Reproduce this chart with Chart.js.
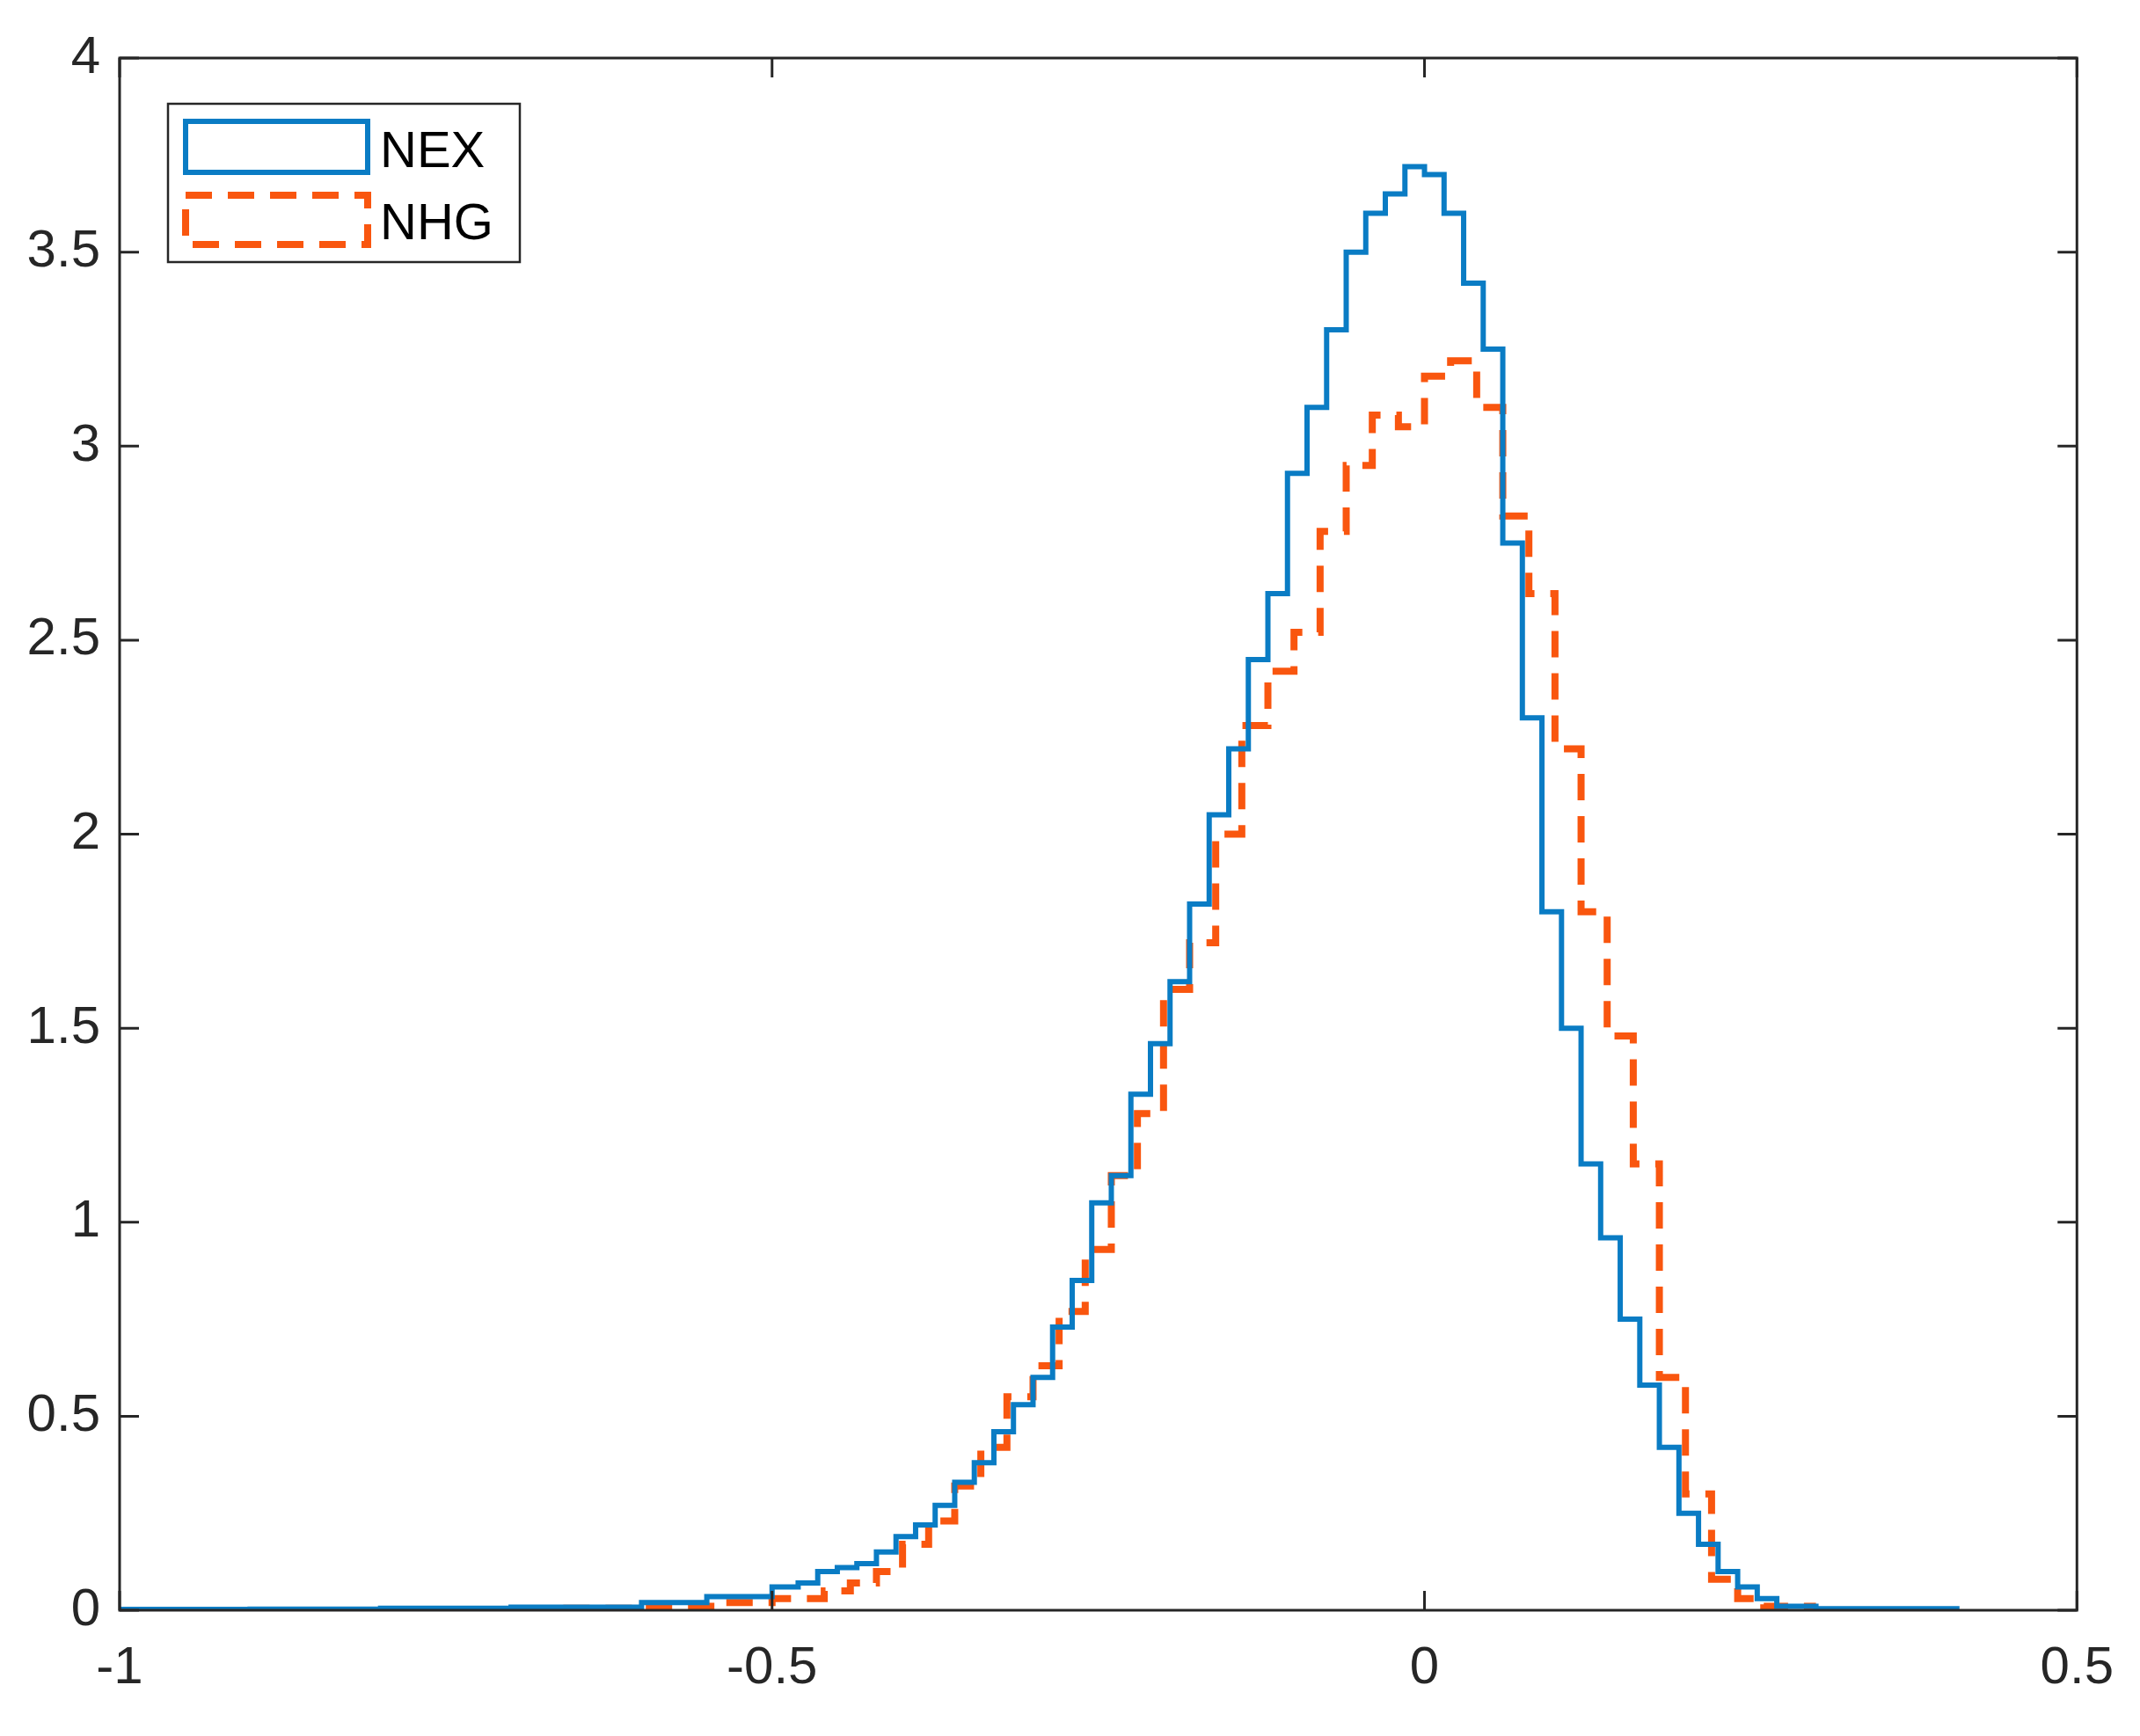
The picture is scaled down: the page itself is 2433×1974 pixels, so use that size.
<!DOCTYPE html>
<html>
<head>
<meta charset="utf-8">
<script src="https://cdn.jsdelivr.net/npm/chart.js@4.4.1/dist/chart.umd.min.js"></script>
<style>
  html, body { margin: 0; padding: 0; background: #fff; }
  #wrap { width: 2433px; height: 1974px; }
</style>
</head>
<body>
<div id="wrap"><canvas id="chart"></canvas></div>
<script>
// NEX histogram: bin left edges and heights
const nexEdges = [-1.0, -0.9, -0.8, -0.7, -0.6, -0.55, -0.5, -0.48, -0.465, -0.45, -0.435, -0.42, -0.405, -0.39, -0.375, -0.36, -0.345, -0.33, -0.315, -0.3, -0.285, -0.27, -0.255, -0.24, -0.225, -0.21, -0.195, -0.18, -0.165, -0.15, -0.135, -0.12, -0.105, -0.09, -0.075, -0.06, -0.045, -0.03, -0.015, 0.0, 0.015, 0.03, 0.045, 0.06, 0.075, 0.09, 0.105, 0.12, 0.135, 0.15, 0.165, 0.18, 0.195, 0.21, 0.225, 0.24, 0.255, 0.27, 0.3, 0.41];
const nexValues = [0.002, 0.003, 0.005, 0.008, 0.02, 0.035, 0.06, 0.07, 0.1, 0.11, 0.12, 0.15, 0.19, 0.22, 0.27, 0.33, 0.38, 0.46, 0.53, 0.6, 0.73, 0.85, 1.05, 1.12, 1.33, 1.46, 1.62, 1.82, 2.05, 2.22, 2.45, 2.62, 2.93, 3.1, 3.3, 3.5, 3.6, 3.65, 3.72, 3.7, 3.6, 3.42, 3.25, 2.75, 2.3, 1.8, 1.5, 1.15, 0.96, 0.75, 0.58, 0.42, 0.25, 0.17, 0.1, 0.06, 0.03, 0.01, 0.004];

// NHG histogram: bin left edges and heights
const nhgEdges = [-0.66, -0.6, -0.54, -0.5, -0.46, -0.44, -0.42, -0.4, -0.38, -0.36, -0.34, -0.32, -0.3, -0.28, -0.26, -0.24, -0.22, -0.2, -0.18, -0.16, -0.14, -0.12, -0.1, -0.08, -0.06, -0.04, -0.02, 0.0, 0.02, 0.04, 0.06, 0.08, 0.1, 0.12, 0.14, 0.16, 0.18, 0.2, 0.22, 0.24, 0.26, 0.3];
const nhgValues = [0.005, 0.01, 0.02, 0.03, 0.05, 0.07, 0.1, 0.17, 0.23, 0.32, 0.42, 0.55, 0.63, 0.77, 0.93, 1.12, 1.28, 1.6, 1.72, 2.0, 2.28, 2.42, 2.52, 2.78, 2.95, 3.08, 3.05, 3.18, 3.22, 3.1, 2.82, 2.62, 2.22, 1.8, 1.48, 1.15, 0.6, 0.3, 0.08, 0.03, 0.01];

const xTicks = [-1, -0.5, 0, 0.5];
const yTicks = [0, 0.5, 1, 1.5, 2, 2.5, 3, 3.5, 4];
const seriesNames = ["NEX", "NHG"];

function steps(edges, values) {
  const pts = values.map((v, i) => ({ x: edges[i], y: v }));
  pts.push({ x: edges[edges.length - 1], y: values[values.length - 1] });
  return pts;
}

const BLUE = "#0A7CC4";
const ORANGE = "#F9560F";
const FONT = "Arial, 'Liberation Sans', sans-serif";

// box, inward ticks on all four sides, MATLAB-style legend
const frame = {
  id: "frame",
  afterDraw(chart) {
    const ctx = chart.ctx, a = chart.chartArea;
    const xs = chart.scales.x, ys = chart.scales.y;
    ctx.save();
    ctx.strokeStyle = "#262626";
    ctx.lineWidth = 3;
    ctx.strokeRect(a.left, a.top, a.right - a.left, a.bottom - a.top);
    ctx.beginPath();
    const L = 22;
    xTicks.forEach(t => {
      const px = xs.getPixelForValue(t);
      ctx.moveTo(px, a.bottom); ctx.lineTo(px, a.bottom - L);
      ctx.moveTo(px, a.top); ctx.lineTo(px, a.top + L);
    });
    yTicks.forEach(t => {
      const py = ys.getPixelForValue(t);
      ctx.moveTo(a.left, py); ctx.lineTo(a.left + L, py);
      ctx.moveTo(a.right, py); ctx.lineTo(a.right - L, py);
    });
    ctx.stroke();

    // legend
    ctx.fillStyle = "#fff";
    ctx.fillRect(191, 118, 400, 180);
    ctx.lineWidth = 2.5;
    ctx.strokeStyle = "#262626";
    ctx.strokeRect(191, 118, 400, 180);
    ctx.lineWidth = 6;
    ctx.strokeStyle = BLUE;
    ctx.strokeRect(211, 138, 207, 58);
    ctx.lineWidth = 8;
    ctx.strokeStyle = ORANGE;
    ctx.setLineDash([30, 18]);
    ctx.strokeRect(211, 222, 207, 56);
    ctx.setLineDash([]);
    ctx.fillStyle = "#000";
    ctx.font = "58px " + FONT;
    ctx.textBaseline = "middle";
    ctx.fillText(seriesNames[0], 432, 174);
    ctx.fillText(seriesNames[1], 432, 256);
    ctx.restore();
  }
};

new Chart(document.getElementById("chart"), {
  type: "line",
  data: {
    datasets: [
      {
        label: seriesNames[0],
        data: steps(nexEdges, nexValues),
        stepped: "before",
        borderColor: BLUE,
        borderWidth: 6,
        pointRadius: 0,
        fill: false
      },
      {
        label: seriesNames[1],
        data: steps(nhgEdges, nhgValues),
        stepped: "before",
        borderColor: ORANGE,
        borderWidth: 8,
        borderDash: [30, 18],
        pointRadius: 0,
        fill: false
      }
    ]
  },
  options: {
    responsive: true,
    maintainAspectRatio: false,
    animation: false,
    layout: { padding: { top: 66, right: 58, left: 0, bottom: 0 } },
    plugins: { legend: { display: false }, tooltip: { enabled: false } },
    scales: {
      x: {
        type: "linear",
        min: -1, max: 0.5,
        afterFit: s => { s.height = 143; },
        afterBuildTicks: s => { s.ticks = xTicks.map(v => ({ value: v })); },
        grid: { drawOnChartArea: false, drawTicks: false },
        border: { display: false },
        ticks: { color: "#262626", font: { size: 60, family: FONT }, padding: 30, callback: v => String(v) }
      },
      y: {
        min: 0, max: 4,
        afterFit: s => { s.width = 136; },
        afterBuildTicks: s => { s.ticks = yTicks.map(v => ({ value: v })); },
        grid: { drawOnChartArea: false, drawTicks: false },
        border: { display: false },
        ticks: { color: "#262626", font: { size: 60, family: FONT }, padding: 22, callback: v => String(v) }
      }
    }
  },
  plugins: [frame]
});
</script>
</body>
</html>
